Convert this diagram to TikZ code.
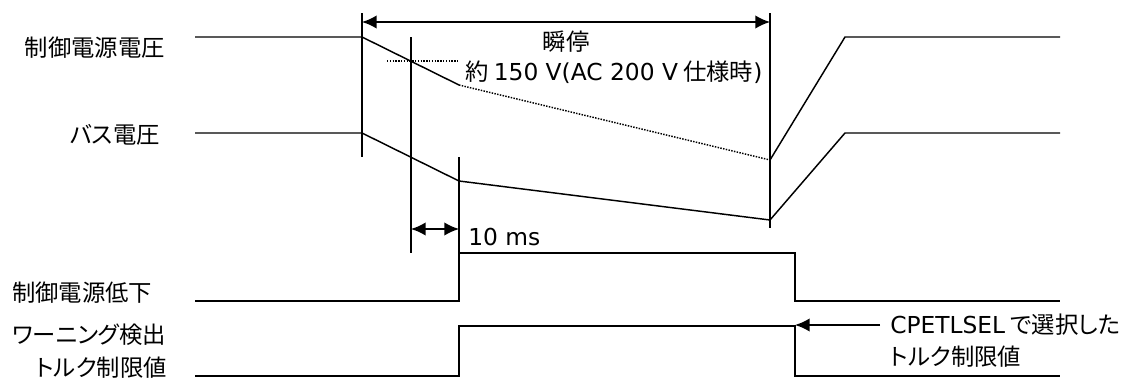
\documentclass[tikz,border=0pt]{standalone}
\usepackage{fontspec}
\setmainfont[RawFeature=+palt]{Noto Sans CJK JP}
\newfontfamily\latfont{DejaVu Sans}
\usetikzlibrary{arrows.meta}
\begin{document}
\begin{tikzpicture}[
    x=0.75pt, y=-0.75pt,
    wave/.style={line width=1.1pt},
    guide/.style={line width=1.1pt},
    lbl/.style={font=\fontsize{17.5}{20}\selectfont,inner sep=0pt},
    >={Latex[length=11pt,width=10pt]}
]
\useasboundingbox (0,0) rectangle (1125,382);

% signal names
\node[lbl,anchor=east] (vctl) at (165,48) {制御電源電圧};
\node[lbl,anchor=east] (vbus) at (160,135) {バス電圧};
\node[lbl,anchor=west] (lowv) at (12,293) {制御電源低下};
\node[lbl,anchor=west] (warn) at (12,335) {ワーニング検出};
\node[lbl,anchor=east] (tlim) at (167,368) {トルク制限値};

% time marks
\coordinate (t0) at (362,0);
\coordinate (t1) at (411,0);
\coordinate (t2) at (459,0);
\coordinate (t3) at (770,0);
\coordinate (t4) at (795,0);

\draw[guide] (t0|-0,13) -- (t0|-0,157);
\draw[guide] (t1|-0,37) -- (t1|-0,253);
\draw[guide] (t2|-0,157) -- (t2|-0,253);
\draw[guide] (t3|-0,13) -- (t3|-0,228);

% control supply voltage
\draw[wave] (195,37) -- (362,37) -- (459,85);
\draw[wave,densely dotted] (459,85) -- (770,160);
\draw[wave] (770,160) -- (845,37) -- (1060,37);
\draw[wave,densely dotted] (387,61) -- (459,61);

% bus voltage
\draw[wave] (195,133) -- (362,133) -- (459,181) -- (770,220) -- (845,133) -- (1060,133);

% control supply low
\draw[wave] (195,301) -- (459,301) -- (459,253) -- (795,253) -- (795,301) -- (1060,301);

% torque limit
\draw[wave] (195,376) -- (459,376) -- (459,326) -- (795,326) -- (795,376) -- (1060,376);

% dimensions
\draw[guide,<->] (t0|-0,22) -- node[lbl,below=6pt] (stop) {瞬停} (t3|-0,22);
\node[lbl,anchor=west] (v150) at (465,72) {約 {\latfont 150 V(AC 200 V} 仕様時{\latfont )}};
\draw[guide,<->] (t1|-0,229) -- (t2|-0,229);
\node[lbl,anchor=west] (ten) at (468,237) {\latfont 10 ms};

% selected torque limit
\node[lbl,anchor=west] (cpet) at (890,325) {{\latfont CPETLSEL} で選択した};
\node[lbl,anchor=west] (cpet2) at (890,357) {トルク制限値};
\draw[guide,->] (cpet.west) ++(-10,0) coordinate (cp) (cp) -- (t4|-cp);
\end{tikzpicture}
\end{document}
